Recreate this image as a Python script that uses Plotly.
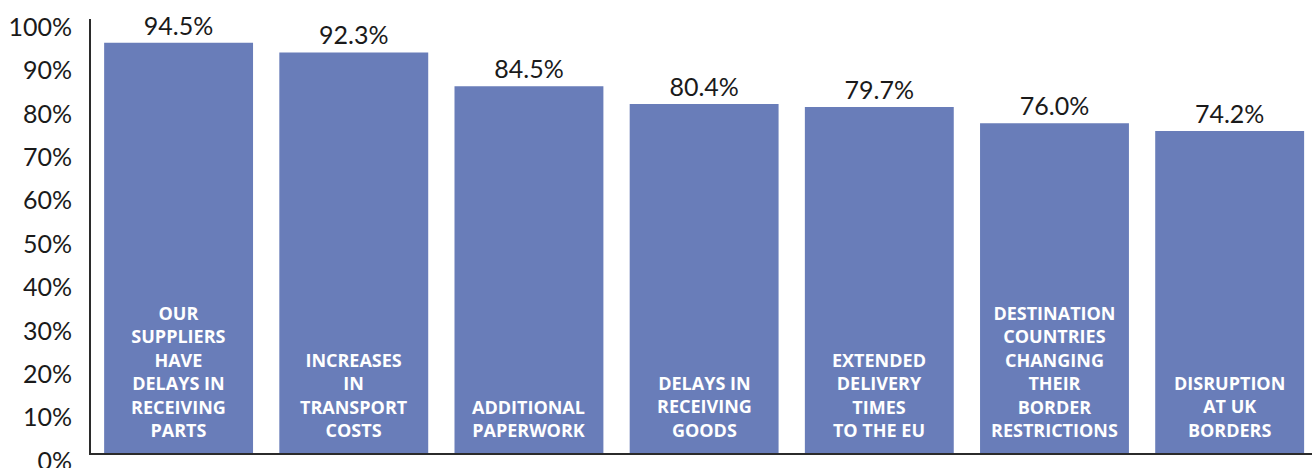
import plotly.graph_objects as go

# Survey results: share of respondents reporting each impact
categories = [
    "OUR<br>SUPPLIERS<br>HAVE<br>DELAYS IN<br>RECEIVING<br>PARTS",
    "INCREASES<br>IN<br>TRANSPORT<br>COSTS",
    "ADDITIONAL<br>PAPERWORK",
    "DELAYS IN<br>RECEIVING<br>GOODS",
    "EXTENDED<br>DELIVERY<br>TIMES<br>TO THE EU",
    "DESTINATION<br>COUNTRIES<br>CHANGING<br>THEIR<br>BORDER<br>RESTRICTIONS",
    "DISRUPTION<br>AT UK<br>BORDERS",
]
values = [94.5, 92.3, 84.5, 80.4, 79.7, 76.0, 74.2]
y_ticks = [0, 10, 20, 30, 40, 50, 60, 70, 80, 90, 100]
y_tick_labels = [f"{t}%" for t in y_ticks]

BAR_COLOR = "#697db9"
AXIS_COLOR = "#2b2b2b"

x_pos = list(range(len(categories)))

fig = go.Figure()
fig.add_trace(go.Bar(
    x=x_pos,
    y=values,
    marker=dict(color=BAR_COLOR, line=dict(width=0)),
    text=[f"{v:.1f}%" for v in values],
    textposition="outside",
    textfont=dict(family="Lato", size=25, color="#1a1a1a"),
    cliponaxis=False,
    hoverinfo="skip",
))

# Category labels written inside each bar, anchored at the base
for xi, label in zip(x_pos, categories):
    fig.add_annotation(
        x=xi, y=0, xref="x", yref="y",
        text=label,
        showarrow=False,
        yanchor="bottom",
        yshift=9,
        align="center",
        font=dict(family="Open Sans", size=18, color="white", weight="bold"),
    )

fig.update_layout(
    width=1312, height=468,
    margin=dict(l=91, r=0, t=19, b=15),
    paper_bgcolor="white",
    plot_bgcolor="white",
    showlegend=False,
    bargap=0.15,
    xaxis=dict(
        range=[-0.5, 6.47],
        showticklabels=False,
        showgrid=False,
        zeroline=False,
        showline=True,
        linecolor=AXIS_COLOR,
        linewidth=2,
        ticks="",
        automargin=False,
        fixedrange=True,
    ),
    yaxis=dict(
        range=[0, 100],
        tickvals=y_ticks,
        ticktext=y_tick_labels,
        tickfont=dict(family="Lato", size=25, color="#1a1a1a"),
        showgrid=False,
        zeroline=False,
        showline=True,
        linecolor=AXIS_COLOR,
        linewidth=2,
        ticks="",
        ticklabelstandoff=12,
        ticklabelshift=8,
        ticklabeloverflow="allow",
        automargin=False,
        fixedrange=True,
    ),
)

fig.write_html("out.html")
